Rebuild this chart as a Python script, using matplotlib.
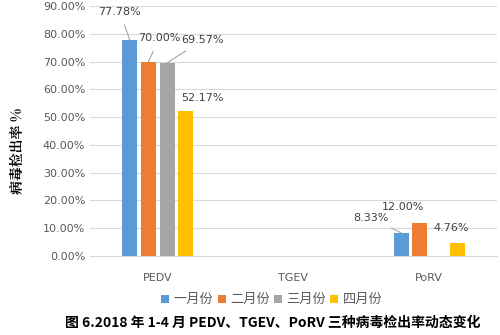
import numpy as np
import matplotlib.pyplot as plt

plt.rcParams['font.family'] = ['Noto Sans CJK SC', 'DejaVu Sans']

categories = ['PEDV', 'TGEV', 'PoRV']
months = ['一月份', '二月份', '三月份', '四月份']
colors = ['#5b9bd5', '#ed7d31', '#a5a5a5', '#ffc000']
rates = [
    [0.7778, 0.0, 0.0833],
    [0.7000, 0.0, 0.1200],
    [0.6957, 0.0, 0.0],
    [0.5217, 0.0, 0.0476],
]
# label text positions (category offset, y) and whether a leader line is drawn
label_pos = {
    (0, 0): (-0.28, 0.878, True),
    (1, 0): (0.01, 0.784, True),
    (2, 0): (0.33, 0.777, True),
    (3, 0): (0.33, 0.568, False),
    (0, 2): (-0.43, 0.137, True),
    (1, 2): (-0.19, 0.176, False),
    (3, 2): (0.16, 0.100, False),
}

fig = plt.figure(figsize=(5, 3.35), dpi=100)
ax = fig.add_axes([0.18, 0.236, 0.814, 0.746])

x = np.arange(len(categories))
w = 0.11
step = 0.138
for i, m in enumerate(months):
    xs = x + (i - 1.5) * step
    ax.bar(xs, rates[i], width=w, color=colors[i], label=m, zorder=3)
    for j, v in enumerate(rates[i]):
        if (i, j) in label_pos:
            tx, ty, line = label_pos[(i, j)]
            ax.annotate(f'{v*100:.2f}%', xy=(xs[j], v), xytext=(x[j] + tx, ty),
                        ha='center', va='center', fontsize=8, color='#404040',
                        family='DejaVu Sans',
                        arrowprops=dict(arrowstyle='-', color='#a6a6a6', lw=0.8,
                                        shrinkA=4, shrinkB=0) if line else None)

ax.set_xlim(-0.5, 2.5)
ax.set_ylim(0, 0.9)
ax.set_yticks(np.arange(0, 0.91, 0.1))
ax.set_yticklabels([f'{t*100:.2f}%' for t in np.arange(0, 0.91, 0.1)],
                   family='DejaVu Sans')
ax.set_xticks(x)
ax.set_xticklabels(categories, family='DejaVu Sans')
ax.tick_params(length=0, labelsize=8, colors='#595959')
ax.tick_params(axis='x', pad=12)
ax.grid(axis='y', color='#d9d9d9', lw=0.8, zorder=0)
for s in ['top', 'right', 'left']:
    ax.spines[s].set_visible(False)
ax.spines['bottom'].set_color('#d9d9d9')

fig.text(0.035, 0.55, '病毒检出率 %', rotation=90, ha='center', va='center',
         fontsize=10, fontweight='bold', family=['Noto Serif CJK SC', 'Noto Sans CJK SC'])

ax.legend(loc='center', bbox_to_anchor=(0.447, -0.176), ncol=4, frameon=False,
          fontsize=9.5, handlelength=0.6, handleheight=0.6, handletextpad=0.35,
          columnspacing=0.3, labelcolor='#595959')

fig.text(0.545, 0.035, '图 6.2018 年 1-4 月 PEDV、TGEV、PoRV 三种病毒检出率动态变化',
         ha='center', va='center', fontsize=10, fontweight='bold')

fig.savefig('out.png', dpi=100)
